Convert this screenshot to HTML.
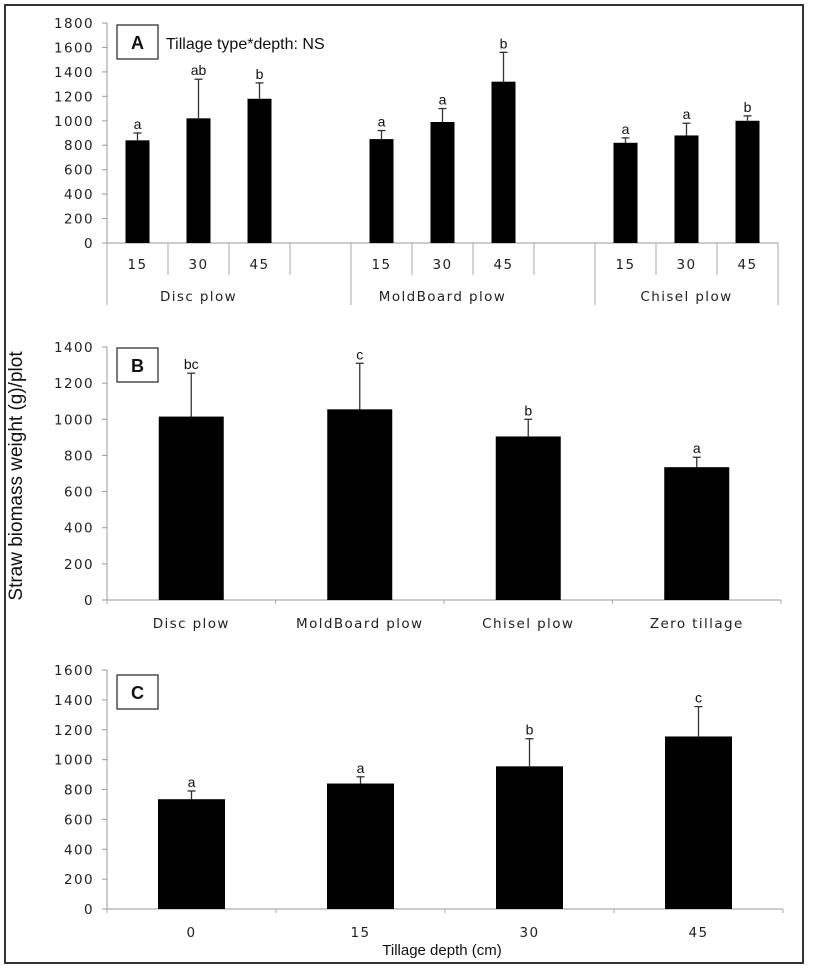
<!DOCTYPE html>
<html><head><meta charset="utf-8"><style>
html,body{margin:0;padding:0;background:#fff}
svg{display:block}
.tk{font-family:"DejaVu Sans",sans-serif;font-size:13.5px;fill:#222;letter-spacing:1.4px}
.lt{font-family:"Liberation Sans",sans-serif;font-size:14px;fill:#111}
</style></head><body>
<svg id="chart" width="819" height="968" viewBox="0 0 819 968" xmlns="http://www.w3.org/2000/svg">
<rect x="5" y="5" width="798" height="958" fill="#fff" stroke="#333" stroke-width="2"/>
<g id="gA"></g>
<g id="gB"></g>
<g id="gC"></g>
<text x="22" y="476" transform="rotate(-90 22 476)" text-anchor="middle" style="font-family:'Liberation Sans',sans-serif;font-size:19px;fill:#111">Straw biomass weight (g)/plot</text>
<text x="442" y="955" text-anchor="middle" style="font-family:'Liberation Sans',sans-serif;font-size:15px;fill:#111">Tillage depth (cm)</text>
</svg>
<script>
// Panel A data
const aDepths = ["15","30","45","","15","30","45","","15","30","45"];
const aGroups = ["Disc plow","MoldBoard plow","Chisel plow"];
const aValues = [840,1020,1180,null,850,990,1320,null,820,880,1000];
const aErrors = [60,320,130,null,70,110,240,null,40,100,40];
const aLetters = ["a","ab","b","","a","a","b","","a","a","b"];
const aTicks = [0,200,400,600,800,1000,1200,1400,1600,1800];
// Panel B data
const bCats = ["Disc plow","MoldBoard plow","Chisel plow","Zero tillage"];
const bValues = [1015,1055,905,735];
const bErrors = [240,255,95,55];
const bLetters = ["bc","c","b","a"];
const bTicks = [0,200,400,600,800,1000,1200,1400];
// Panel C data
const cCats = ["0","15","30","45"];
const cValues = [735,840,955,1155];
const cErrors = [55,45,185,200];
const cLetters = ["a","a","b","c"];
const cTicks = [0,200,400,600,800,1000,1200,1400,1600];

const NS="http://www.w3.org/2000/svg";
function mk(parent,tag,attrs,text){const e=document.createElementNS(NS,tag);for(const k in attrs)e.setAttribute(k,attrs[k]);if(text!==undefined)e.textContent=text;parent.appendChild(e);return e;}

function panel(g,opt){
  const x0=107,x1=opt.x1,y0=opt.y0,yTop=opt.yTop,max=opt.ticks[opt.ticks.length-1];
  const ys=v=>y0-(v/max)*(y0-yTop);
  const n=opt.values.length,sw=(x1-x0)/n;
  const xc=i=>x0+sw*(i+0.5);
  const ax=mk(g,'line',{x1:x0,y1:yTop,x2:x0,y2:y0,stroke:'#999','stroke-width':1});
  
  
  const xa=mk(g,'line',{x1:x0-5,y1:y0,x2:x1,y2:y0,stroke:'#999','stroke-width':1});
  
  
  opt.ticks.forEach(t=>{
    mk(g,'line',{x1:x0-5,y1:ys(t),x2:x0,y2:ys(t),stroke:'#999'});
    const tl=mk(g,'text',{x:x0-13,y:ys(t)+5,'text-anchor':'end',class:'tk'},String(t));
    
    
  });
  opt.values.forEach((v,i)=>{
    if(v===null)return;
    const cx=xc(i),bw=opt.bw;
    const top=ys(v),et=ys(v+opt.errors[i]);
    const el=mk(g,'line',{x1:cx,y1:top,x2:cx,y2:et,stroke:'#333','stroke-width':1.3});
    
    
    mk(g,'line',{x1:cx-4,y1:et,x2:cx+4,y2:et,stroke:'#333','stroke-width':1.3});
    const r=mk(g,'rect',{x:cx-bw/2,y:top,width:bw,height:y0-top,fill:'#000'});
    
    
    const lt=mk(g,'text',{x:cx,y:et-4,'text-anchor':'middle',class:'lt'},opt.letters[i]);
    
    
  });
  return {xc,sw,x0,y0};
}
function box(g,y,label){
  mk(g,'rect',{x:117,y:y,width:41,height:34,fill:'#fff',stroke:'#222','stroke-width':1.2});
  const t=mk(g,'text',{x:137.5,y:y+24,'text-anchor':'middle',style:"font-family:'Liberation Sans',sans-serif;font-size:18px;font-weight:bold;fill:#111"},label);
  
  
}

// Panel A
const gA=document.getElementById('gA');
const pA=panel(gA,{x1:778,y0:243,yTop:23,ticks:aTicks,values:aValues,errors:aErrors,letters:aLetters,bw:24});
for(let i=0;i<=aDepths.length;i++){
  const x=pA.x0+pA.sw*i;
  const grp=(i%4===0)||i===aDepths.length;
  mk(gA,'line',{x1:x,y1:243,x2:x,y2:grp?305:275,stroke:'#aaa'});
}
aDepths.forEach((d,i)=>{
  if(!d)return;
  const t=mk(gA,'text',{x:pA.xc(i),y:269,'text-anchor':'middle',class:'tk'},d);
  
  
});
aGroups.forEach((gname,k)=>{
  const i0=k*4,i1=Math.min(k*4+3,aDepths.length);
  const cx=pA.x0+pA.sw*(i0+i1)/2;
  const t=mk(gA,'text',{x:cx,y:301,'text-anchor':'middle',class:'tk'},gname);
  
  
});
box(gA,25,'A');
const ttl=mk(gA,'text',{x:166,y:49,style:"font-family:'Liberation Sans',sans-serif;font-size:16px;fill:#111"},'Tillage type*depth: NS');



// Panel B
const gB=document.getElementById('gB');
const pB=panel(gB,{x1:781,y0:600,yTop:347,ticks:bTicks,values:bValues,errors:bErrors,letters:bLetters,bw:65});
for(let i=0;i<=bCats.length;i++){const x=pB.x0+pB.sw*i;mk(gB,'line',{x1:x,y1:600,x2:x,y2:604,stroke:'#aaa'});}
bCats.forEach((c,i)=>{
  const t=mk(gB,'text',{x:pB.xc(i),y:628,'text-anchor':'middle',class:'tk'},c);
  
  
});
box(gB,348,'B');

// Panel C
const gC=document.getElementById('gC');
const pC=panel(gC,{x1:783,y0:909,yTop:670,ticks:cTicks,values:cValues,errors:cErrors,letters:cLetters,bw:67});
for(let i=0;i<=cCats.length;i++){const x=pC.x0+pC.sw*i;mk(gC,'line',{x1:x,y1:909,x2:x,y2:913,stroke:'#aaa'});}
cCats.forEach((c,i)=>{
  const t=mk(gC,'text',{x:pC.xc(i),y:937,'text-anchor':'middle',class:'tk'},c);
  
  
});
box(gC,675,'C');
</script>
</body></html>
